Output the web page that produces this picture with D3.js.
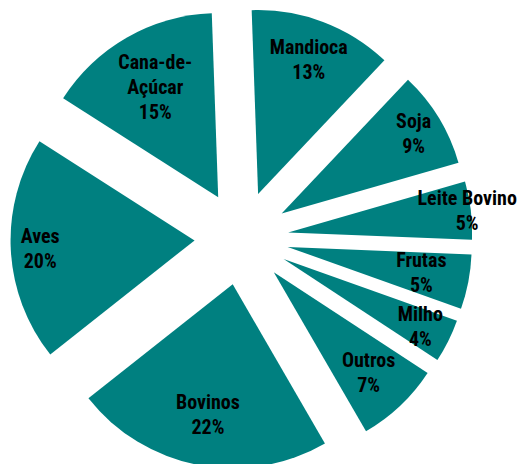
<!DOCTYPE html>
<html>
<head>
<meta charset="utf-8">
<script src="https://cdn.jsdelivr.net/npm/d3@7"></script>
<style>
  html, body { margin: 0; padding: 0; background: #fff; }
  svg { display: block; }
  text { font-family: "Liberation Sans Narrow", "Arial Narrow", "Roboto Condensed", sans-serif; font-weight: bold; font-size: 20px; fill: #000; }
</style>
</head>
<body>
<script>
// Data (labels as printed)
const categories = ["Mandioca", "Soja", "Leite Bovino", "Frutas", "Milho", "Outros", "Bovinos", "Aves", "Cana-de-Açúcar"];
const values = [12.6, 8.5, 5.1, 4.8, 3.8, 7.4, 22.7, 19.7, 15.4];
const pctLabels = ["13%", "9%", "5%", "5%", "4%", "7%", "22%", "20%", "15%"];
const labelLines = [["Mandioca"], ["Soja"], ["Leite Bovino"], ["Frutas"], ["Milho"], ["Outros"], ["Bovinos"], ["Aves"], ["Cana-de-", "Açúcar"]];

// Layout
const W = 523, H = 464;
const cx = 241.5, cy = 238, R = 184, explode = 47;
const labelFactor = [0.78, 0.84, 0.98, 0.74, 0.83, 0.75, 0.72, 0.84, 0.69];
const lineH = 25;

const svg = d3.select("body").append("svg").attr("width", W).attr("height", H);
const g = svg.append("g").attr("transform", `translate(${cx},${cy})`);

const pie = d3.pie().sort(null).value(d => d).startAngle(-2 * Math.PI / 180).endAngle(2 * Math.PI - 2 * Math.PI / 180);
const arcs = pie(values);
const arc = d3.arc().innerRadius(0).outerRadius(R);

const slices = g.selectAll("g.slice").data(arcs).enter().append("g")
  .attr("class", "slice")
  .attr("transform", d => {
    const m = (d.startAngle + d.endAngle) / 2;
    return `translate(${explode * Math.sin(m)},${-explode * Math.cos(m)})`;
  });

slices.append("path").attr("d", arc).attr("fill", "#008080");

slices.each(function(d, i) {
  const m = (d.startAngle + d.endAngle) / 2;
  const r = labelFactor[i] * R;
  const lx = r * Math.sin(m), ly = -r * Math.cos(m);
  const lines = labelLines[i].concat([pctLabels[i]]);
  const t = d3.select(this).append("text").attr("text-anchor", "middle");
  lines.forEach((s, k) => {
    t.append("tspan").attr("x", lx)
      .attr("y", ly + (k - (lines.length - 1) / 2) * lineH + 7)
      .text(s);
  });
});
</script>
</body>
</html>
